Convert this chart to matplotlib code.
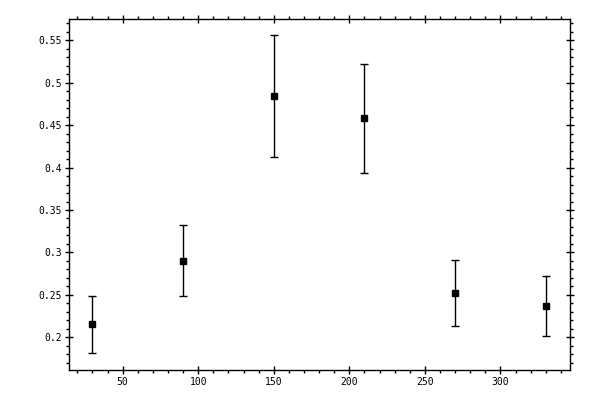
import matplotlib
matplotlib.use('Agg')
import matplotlib.pyplot as plt
from matplotlib.ticker import MultipleLocator, FormatStrFormatter

angles = [30, 90, 150, 210, 270, 330]
values = [0.2153, 0.2896, 0.484, 0.458, 0.2519, 0.2369]
upper = [0.2483, 0.332, 0.556, 0.522, 0.2907, 0.2719]
lower = [0.1811, 0.2483, 0.4125, 0.3933, 0.213, 0.2012]

err_lo = [v - lo for v, lo in zip(values, lower)]
err_hi = [hi - v for v, hi in zip(values, upper)]

plt.rcParams['font.family'] = 'DejaVu Sans Mono'
fig = plt.figure(figsize=(6, 4), dpi=100)
ax = fig.add_axes([0.115, 0.075, 0.835, 0.8775])

ax.errorbar(angles, values, yerr=[err_lo, err_hi], fmt='s', color='black',
            markersize=5, capsize=3, elinewidth=1, capthick=1)

ax.set_xlim(14.5, 346)
ax.set_ylim(0.1615, 0.575)
ax.xaxis.set_major_locator(MultipleLocator(50))
ax.xaxis.set_minor_locator(MultipleLocator(10))
ax.yaxis.set_major_locator(MultipleLocator(0.05))
ax.yaxis.set_minor_locator(MultipleLocator(0.01))
ax.yaxis.set_major_formatter(FormatStrFormatter('%g'))

ax.tick_params(which='major', direction='inout', length=6, width=1,
               top=True, right=True, labelsize=7, pad=2)
ax.tick_params(which='minor', direction='out', length=2.5, width=1,
               top=True, right=True)
for s in ax.spines.values():
    s.set_linewidth(1)

plt.savefig('out.png', dpi=100)
